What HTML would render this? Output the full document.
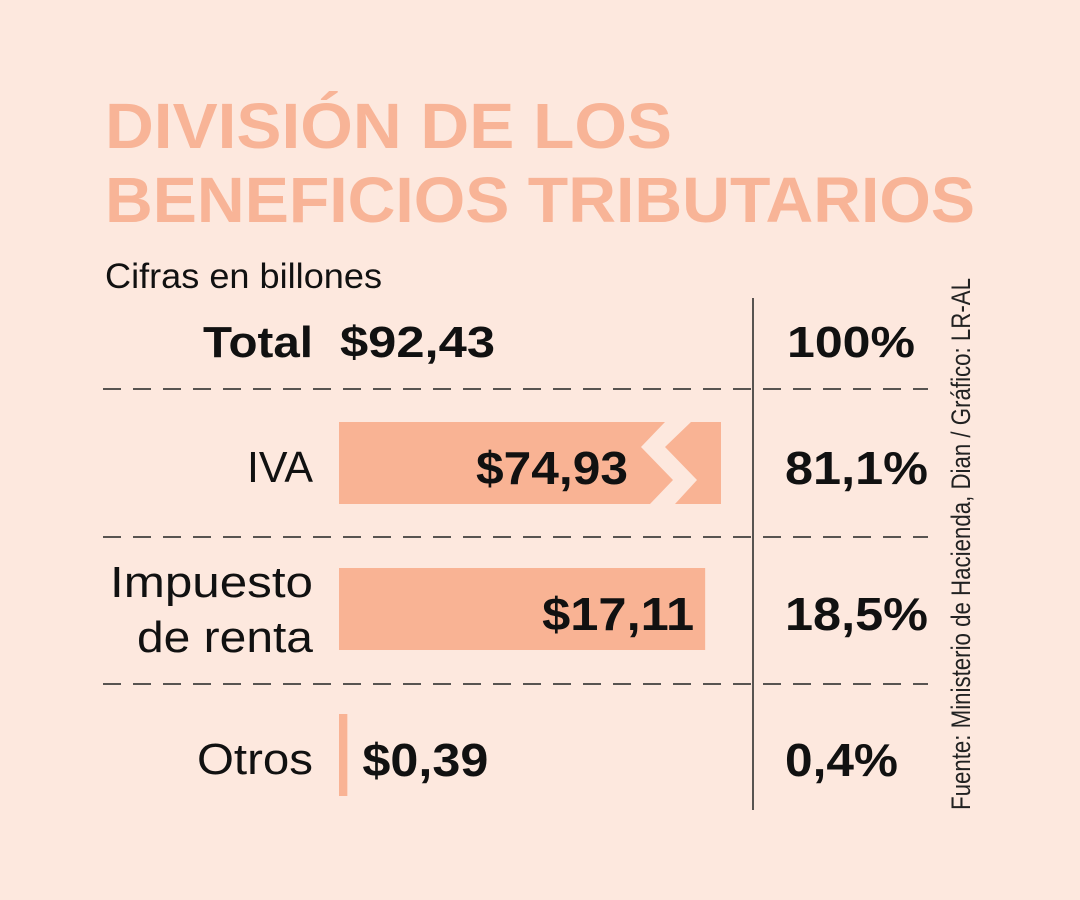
<!DOCTYPE html>
<html><head><meta charset="utf-8"><style>
html,body{margin:0;padding:0;background:#fde8de;}
svg{display:block;}
</style></head><body>
<svg width="1080" height="900" viewBox="0 0 1080 900" id="chart" font-family="'Liberation Sans', sans-serif">
<rect x="0" y="0" width="1080" height="900" fill="#fde8de"/>
<text x="105" y="148" font-size="64" font-weight="bold" fill="#f8b497" textLength="567" lengthAdjust="spacingAndGlyphs">DIVISIÓN DE LOS</text>
<text x="105" y="222" font-size="64" font-weight="bold" fill="#f8b497" textLength="870" lengthAdjust="spacingAndGlyphs">BENEFICIOS TRIBUTARIOS</text>
<text x="105" y="288" font-size="35" fill="#111" textLength="277" lengthAdjust="spacingAndGlyphs">Cifras en billones</text>
<text x="313" y="357" font-size="44" font-weight="bold" fill="#111" text-anchor="end" textLength="110" lengthAdjust="spacingAndGlyphs">Total</text>
<text x="340" y="357" font-size="44" font-weight="bold" fill="#111" textLength="155" lengthAdjust="spacingAndGlyphs">$92,43</text>
<text x="787" y="357" font-size="44" font-weight="bold" fill="#111" textLength="128" lengthAdjust="spacingAndGlyphs">100%</text>
<line x1="753" y1="298" x2="753" y2="810" stroke="#222" stroke-width="1.5"/>
<g id="dividers"></g>
<g id="rows"></g>
<text transform="translate(970,810) rotate(-90)" font-size="27" fill="#222" textLength="532" lengthAdjust="spacingAndGlyphs">Fuente: Ministerio de Hacienda, Dian / Gráfico: LR-AL</text>
</svg>
<script>
const categories = ["IVA", "Impuesto de renta", "Otros"];
const values = [74.93, 17.11, 0.39];
const valueLabels = ["$74,93", "$17,11", "$0,39"];
const percentLabels = ["81,1%", "18,5%", "0,4%"];

const NS = "http://www.w3.org/2000/svg";
const svg = document.getElementById('chart');
const rowsG = document.getElementById('rows');
const divG = document.getElementById('dividers');
const x0 = 339, pxPerUnit = 21.4, maxW = 382;
const rowTop = [422, 568, 714], barH = 82;
function xScale(v){ return x0 + v * pxPerUnit; }
function mk(tag, attrs){ const e=document.createElementNS(NS,tag); for(const k in attrs) e.setAttribute(k,attrs[k]); return e; }

[389, 537, 684].forEach((y,i)=>{
  const l = mk('line',{x1:103,y1:y,x2:928,y2:y,stroke:'#222','stroke-width':1.6,'stroke-dasharray':'18 12'});
  
  
  divG.appendChild(l);
});

categories.forEach((c,i)=>{
  const top = rowTop[i];
  const fullW = xScale(values[i]) - x0;
  const g = mk('g',{});
  
  
  if (fullW > maxW) {
    const xe = x0 + maxW;
    const p1 = mk('polygon',{points:`${x0},${top} ${xe-56},${top} ${xe-80},${top+25} ${xe-48},${top+58} ${xe-71},${top+barH} ${x0},${top+barH}`, fill:'#f9b394'});
    
    
    const p2 = mk('polygon',{points:`${xe-30},${top} ${xe},${top} ${xe},${top+barH} ${xe-46},${top+barH} ${xe-24},${top+58} ${xe-56},${top+25}`, fill:'#f9b394'});
    
    
    g.appendChild(p1); g.appendChild(p2);
  } else {
    const r = mk('rect',{x:x0,y:top,width:Math.max(fullW,8),height:barH,fill:'#f9b394'});
    
    
    g.appendChild(r);
  }
  const base = top + 58;
  // category label
  if (c === "Impuesto de renta") {
    const t1 = mk('text',{x:313,y:top+29,'font-size':44,fill:'#111','text-anchor':'end',textLength:203,lengthAdjust:'spacingAndGlyphs'});
    t1.textContent = "Impuesto";
    
    
    const t2 = mk('text',{x:313,y:top+84,'font-size':44,fill:'#111','text-anchor':'end',textLength:176,lengthAdjust:'spacingAndGlyphs'});
    t2.textContent = "de renta";
    
    
    g.appendChild(t1); g.appendChild(t2);
  } else {
    const t = mk('text',{x:313,y:base+2,'font-size':44,fill:'#111','text-anchor':'end',textLength: c==="IVA"?66:116,lengthAdjust:'spacingAndGlyphs'});
    t.textContent = c;
    
    
    g.appendChild(t);
  }
  // value label
  const barEnd = Math.min(xScale(values[i]), x0+maxW);
  let vt;
  if (fullW > 200) {
    const endX = fullW > maxW ? barEnd - 93 : barEnd - 11;
    vt = mk('text',{x:endX,y:base+4,'font-size':46,'font-weight':'bold',fill:'#111','text-anchor':'end',textLength:152,lengthAdjust:'spacingAndGlyphs'});
  } else {
    vt = mk('text',{x:Math.max(barEnd,x0+8)+15,y:base+4,'font-size':46,'font-weight':'bold',fill:'#111',textLength:126,lengthAdjust:'spacingAndGlyphs'});
  }
  vt.textContent = valueLabels[i];
  
  
  g.appendChild(vt);
  const pt = mk('text',{x:785,y:base+4,'font-size':46,'font-weight':'bold',fill:'#111',textLength: percentLabels[i].length>4?143:113,lengthAdjust:'spacingAndGlyphs'});
  pt.textContent = percentLabels[i];
  
  
  g.appendChild(pt);
  rowsG.appendChild(g);
});
</script>
</body></html>
